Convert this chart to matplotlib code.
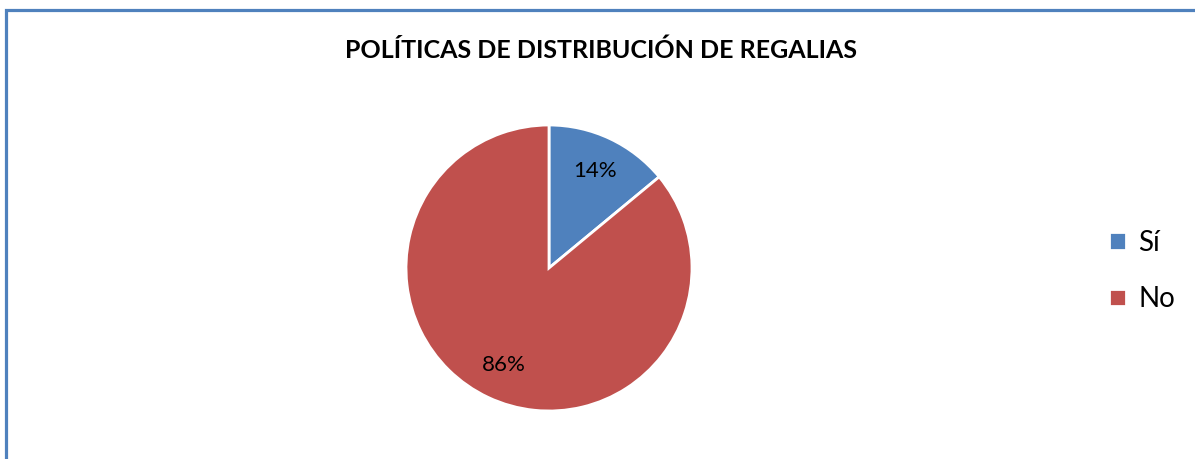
import matplotlib
matplotlib.use("Agg")
import matplotlib.pyplot as plt
from matplotlib.patches import Rectangle

# ── Data ───────────────────────────────────────────────────────────────
labels = ["Sí", "No"]
values = [14, 86]
colors = ["#4F81BD", "#C0504D"]
title = "POLÍTICAS DE DISTRIBUCIÓN DE REGALIAS"

plt.rcParams["font.family"] = ["Lato", "DejaVu Sans"]

W, H = 1195, 459
fig = plt.figure(figsize=(W / 100, H / 100), dpi=100)

# outer chart frame (runs off the right and bottom edges)
fig.patches.append(Rectangle((5.5 / W, -0.05), 1.1, 1 - 10 / H + 0.05,
                             transform=fig.transFigure, fill=False,
                             edgecolor="#4F81BD", linewidth=2.3))

r = 143
cx, cy = 549, 268
ax = fig.add_axes([(cx - r) / W, (H - cy - r) / H, 2 * r / W, 2 * r / H])
wedges, _, autotexts = ax.pie(
    values, colors=colors, startangle=90, counterclock=False,
    autopct="%1.0f%%", pctdistance=0.75, radius=1,
    wedgeprops=dict(edgecolor="white", linewidth=2),
    textprops=dict(fontsize=16, color="black"),
)
ax.set_xlim(-1, 1)
ax.set_ylim(-1, 1)
ax.set_aspect("equal")
ax.axis("off")

fig.text(601 / W, 1 - 50 / H, title, ha="center", va="center",
         fontsize=18, fontweight="bold")

fig.legend(wedges, labels, loc="center left",
           bbox_to_anchor=(1084 / W, 1 - 271 / H), frameon=False,
           fontsize=20, handlelength=0.6, handleheight=0.6,
           handletextpad=0.45, labelspacing=1.1)

fig.savefig("out.png", dpi=100)
